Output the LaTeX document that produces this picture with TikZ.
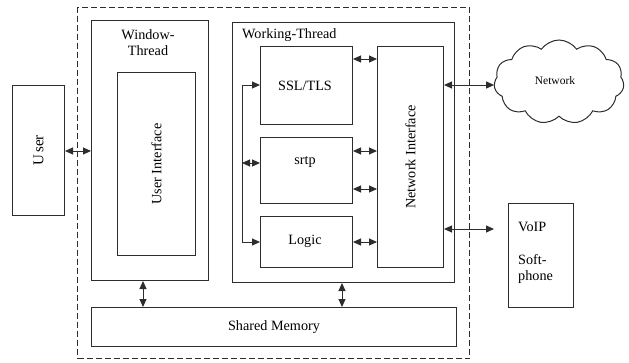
\documentclass[tikz,border=0pt]{standalone}
\usepackage{fontspec}
\setmainfont{Liberation Serif}
\usetikzlibrary{arrows.meta,shapes.symbols}
\definecolor{ln}{RGB}{45,45,45}
\begin{document}
\begin{tikzpicture}[x=1pt,y=-1pt,
  box/.style={draw=ln,line width=1pt,anchor=north west,inner sep=0pt},
  txt/.style={font=\fontsize{14.2}{16}\selectfont,inner sep=0pt},
  dbl/.style={draw=ln,line width=1pt,{Triangle[length=8pt,width=7pt]}-{Triangle[length=8pt,width=7pt]}}]
\useasboundingbox (0,0) rectangle (629,362);
% outer dashed boundary
\node[box,dash pattern=on 6pt off 3pt,minimum width=392pt,minimum height=351pt] (outer) at (77,7) {};
% user
\node[box,minimum width=52pt,minimum height=130pt] (user) at (12,85) {};
\node[txt,rotate=90,font=\fontsize{15}{17}\selectfont] (usertxt) at (user.center) {U\,ser};
% window thread
\node[box,minimum width=117pt,minimum height=260pt] (win) at (91,20) {};
\node[txt,align=center] (wintxt) at (148,43) {Window-\\Thread};
\node[box,minimum width=78pt,minimum height=183pt] (ui) at (117,72) {};
\node[txt,rotate=90] (uitxt) at (ui.center) {User Interface};
% working thread
\node[box,minimum width=222pt,minimum height=260pt] (wt) at (232,22) {};
\node[txt,anchor=west] (wttxt) at (242,35) {Working-Thread};
\node[box,minimum width=92pt,minimum height=78pt] (ssl) at (260,46) {};
\node[txt] (ssltxt) at (305,86) {SSL/TLS};
\node[box,minimum width=92pt,minimum height=66pt] (srtp) at (260,137) {};
\node[txt] (srtptxt) at (305,162) {srtp};
\node[box,minimum width=92pt,minimum height=51pt] (logic) at (260,216) {};
\node[txt] (logictxt) at (305,241) {Logic};
\node[box,minimum width=66pt,minimum height=221pt] (ni) at (377,46) {};
\node[txt,rotate=90] (nitxt) at (ni.center) {Network Interface};
% shared memory
\node[box,minimum width=365pt,minimum height=39pt] (sm) at (91,307) {};
\node[txt] (smtxt) at (sm.center) {Shared Memory};
% network cloud
\node[cloud,draw=ln,line width=1pt,cloud puffs=11,cloud puff arc=110,aspect=1.6,minimum width=130pt,minimum height=84pt,inner sep=0pt] (net) at (559,82) {};
\node[font=\fontsize{11.5}{13}\selectfont,inner sep=0pt] (nettxt) at (555,81) {Network};
% voip
\node[box,minimum width=65pt,minimum height=104pt] (voip) at (508,203) {};
\node[txt,align=left,anchor=north west] (voiptxt) at (518,222) {VoIP\\[17pt]Soft-\\phone};
% connectors
\draw[dbl] (user.east |- 0,151) -- (win.west |- 0,151);
\draw[dbl] (ssl.east |- 0,59) -- (ni.west |- 0,59);
\draw[dbl] (srtp.east |- 0,151) -- (ni.west |- 0,151);
\draw[dbl] (srtp.east |- 0,189) -- (ni.west |- 0,189);
\draw[dbl] (logic.east |- 0,242) -- (ni.west |- 0,242);
\coordinate (bt) at (242,85);
\coordinate (bb) at (242,242);
\coordinate (bm) at (242,163);
\draw[dbl] (ssl.west |- bt) -- (bt) -- (bb) -- (logic.west |- bb);
\draw[dbl] (bm) -- (srtp.west |- bm);
\draw[dbl] (ni.east |- 0,85) -- (net.west |- 0,85);
\coordinate (vp) at (494,229);
\draw[dbl] (ni.east |- vp) -- (vp);
\draw[dbl] (win.south -| 143,0) -- (sm.north -| 143,0);
\draw[dbl] (wt.south -| 342,0) -- (sm.north -| 342,0);
\end{tikzpicture}
\end{document}
